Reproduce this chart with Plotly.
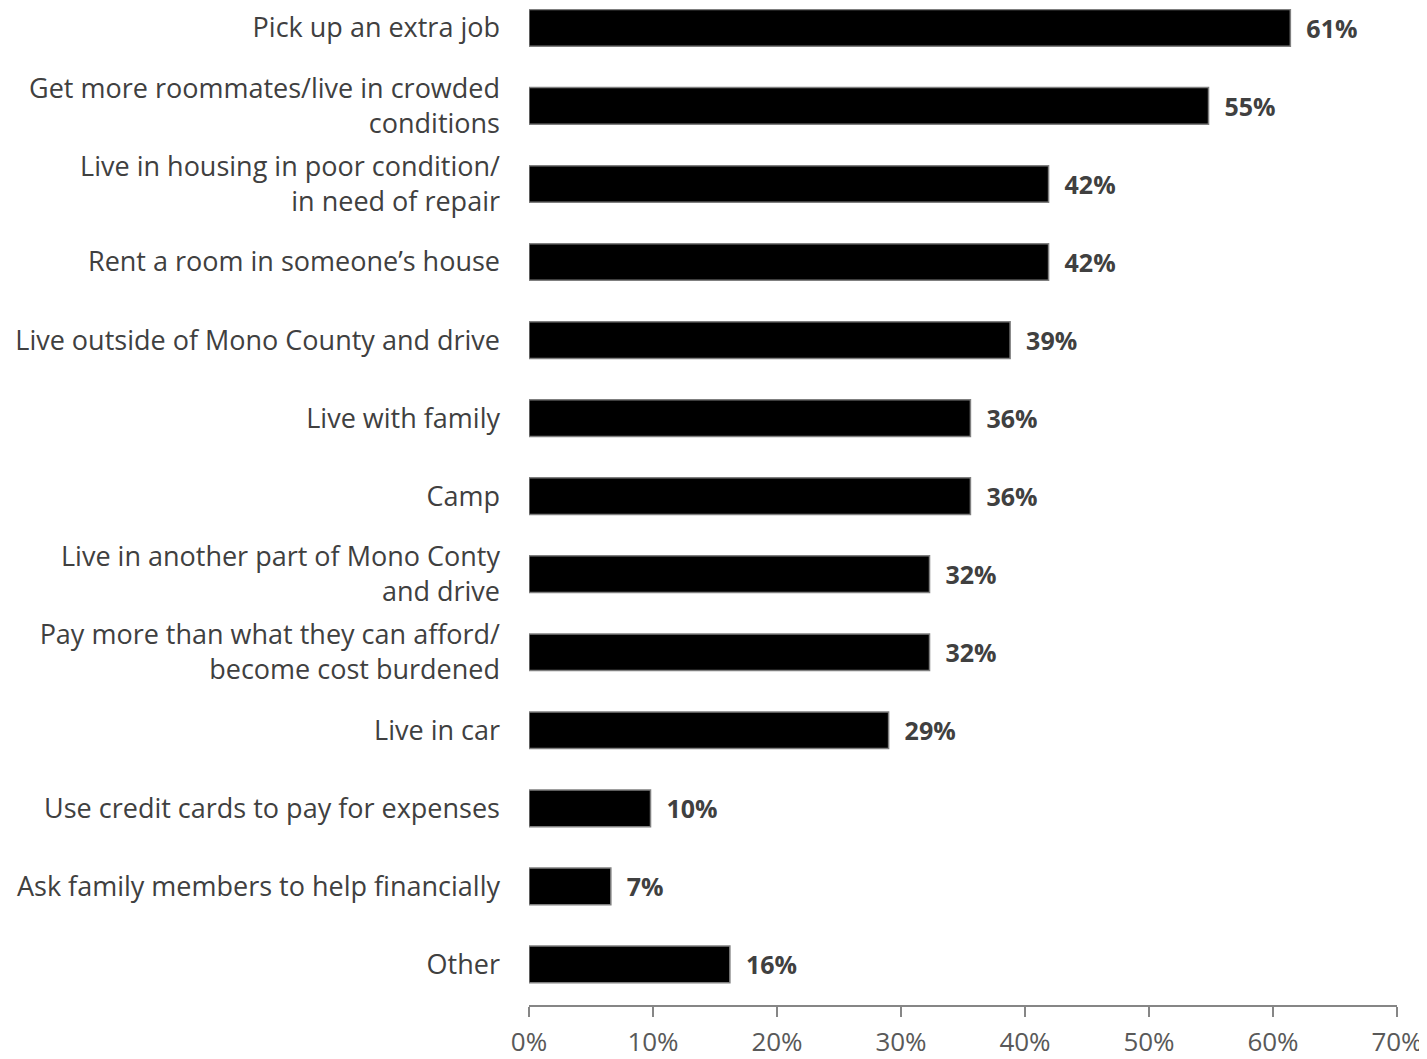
import plotly.graph_objects as go

categories = [
    "Pick up an extra job",
    "Get more roommates/live in crowded<br>conditions",
    "Live in housing in poor condition/<br>in need of repair",
    "Rent a room in someone\u2019s house",
    "Live outside of Mono County and drive",
    "Live with family",
    "Camp",
    "Live in another part of Mono Conty<br>and drive",
    "Pay more than what they can afford/<br>become cost burdened",
    "Live in car",
    "Use credit cards to pay for expenses",
    "Ask family members to help financially",
    "Other",
]
values = [61.4, 54.8, 41.9, 41.9, 38.8, 35.6, 35.6, 32.3, 32.3, 29.0, 9.8, 6.6, 16.2]
x_ticks = [0, 10, 20, 30, 40, 50, 60, 70]
x_tick_labels = ["0%", "10%", "20%", "30%", "40%", "50%", "60%", "70%"]

FONT = "Open Sans"

fig = go.Figure()
fig.add_trace(go.Bar(
    x=values,
    y=categories,
    orientation="h",
    width=0.47,
    marker=dict(color="#000000", line=dict(color="#7f7f7f", width=1.5)),
    texttemplate="\u00a0\u00a0%{x:.0f}%",
    textposition="outside",
    textfont=dict(family=FONT, size=25, color="#404040", weight="bold"),
    cliponaxis=False,
    hoverinfo="skip",
))

fig.update_layout(
    width=1419,
    height=1051,
    margin=dict(l=521, r=30, t=0, b=50),
    paper_bgcolor="white",
    plot_bgcolor="white",
    showlegend=False,
    font=dict(family=FONT),
)
fig.update_xaxes(
    range=[0, 70],
    tickvals=x_ticks,
    ticktext=x_tick_labels,
    showgrid=False,
    zeroline=False,
    showline=True,
    linecolor="#868686",
    linewidth=1.5,
    ticks="outside",
    ticklen=10,
    tickcolor="#868686",
    tickwidth=1.5,
    ticklabelstandoff=3,
    tickfont=dict(family=FONT, size=26, color="#595959"),
)
fig.update_yaxes(
    type="category",
    categoryorder="array",
    categoryarray=categories,
    range=[12.52, -0.242],
    showgrid=False,
    zeroline=False,
    showline=False,
    ticks="",
    ticklabelstandoff=28,
    tickfont=dict(family=FONT, size=27, color="#404040"),
)

fig.write_html("out.html")
